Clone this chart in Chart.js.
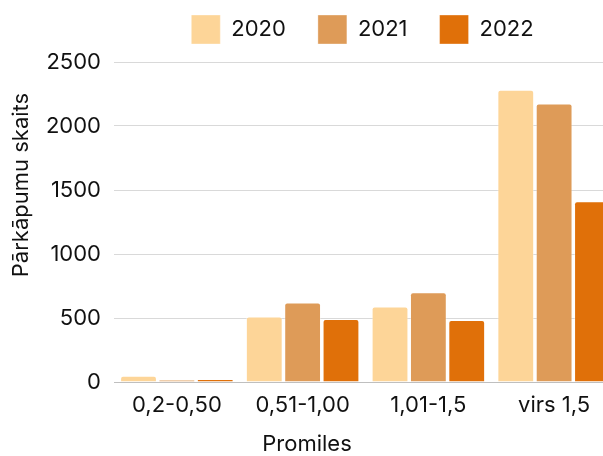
<!DOCTYPE html>
<html><head><meta charset="utf-8">
<script src="https://cdn.jsdelivr.net/npm/chart.js@4"></script>
<style>
html,body{margin:0;padding:0;background:#fff;}
#wrap{width:603px;height:456px;overflow:hidden;position:relative;}
canvas{display:block;}
</style></head>
<body>
<div id="wrap"><canvas id="c" width="725" height="456"></canvas></div>
<script>
const categories = ['0,2-0,50', '0,51-1,00', '1,01-1,5', 'virs 1,5'];
const seriesNames = ['2020', '2021', '2022'];
const values2020 = [48, 512, 589, 2284];
const values2021 = [20, 622, 701, 2175];
const values2022 = [24, 492, 484, 1412];
const yTicks = [0, 500, 1000, 1500, 2000, 2500];
const xTitle = 'Promiles';
const yTitle = 'Pārkāpumu skaits';
const colors = ['#FDD598', '#DE9B58', '#E07009'];
const FONT = "Inter, 'Open Sans', sans-serif";
const FS = 22;

const axisTitles = {
  id: 'axisTitles',
  afterLayout(chart) {
    const lg = chart.legend;
    if (lg) { lg.left += 54; lg.right += 54; lg.top -= 17; lg.bottom -= 17; }
  },
  afterDraw(chart) {
    const ctx = chart.ctx;
    ctx.save();
    ctx.fillStyle = '#111';
    ctx.font = FS + 'px ' + FONT;
    ctx.textAlign = 'center';
    ctx.textBaseline = 'middle';
    ctx.fillText(xTitle, 307, 444);
    ctx.translate(21, 185);
    ctx.rotate(-Math.PI / 2);
    ctx.fillText(yTitle, 0, 0);
    ctx.restore();
  }
};
const legendFit = {
  id: 'legendFit',
  beforeInit(chart) {
    const lg = chart.legend;
    if (!lg) return;
    const orig = lg.fit;
    lg.fit = function () { orig.call(this); this.height = 62; };
  }
};

new Chart(document.getElementById('c'), {
  type: 'bar',
  data: {
    labels: categories,
    datasets: [values2020, values2021, values2022].map((v, i) => ({
      label: seriesNames[i],
      data: v,
      backgroundColor: colors[i],
      borderColor: 'rgba(255,255,255,0.35)',
      borderWidth: 1,
      borderRadius: 3,
      borderSkipped: 'bottom',
      categoryPercentage: 0.915,
      barPercentage: 0.96
    }))
  },
  options: {
    responsive: false,
    animation: false,
    devicePixelRatio: 1,
    layout: { padding: { left: 0, right: 108, top: 0, bottom: 0 } },
    plugins: {
      legend: {
        position: 'top',
        labels: {
          boxWidth: 29, boxHeight: 29, padding: 32,
          color: '#111',
          font: { family: FONT, size: FS }
        }
      },
      tooltip: { enabled: false }
    },
    scales: {
      x: {
        grid: { display: false, drawTicks: false },
        border: { display: true, color: '#BFBFBF', width: 1 },
        ticks: { color: '#111', font: { family: FONT, size: FS }, padding: 10 },
        afterFit(s) { s.height = 74; }
      },
      y: {
        min: 0, max: 2500,
        afterBuildTicks(s) { s.ticks = yTicks.map(v => ({ value: v })); },
        grid: { color: '#D9D9D9', lineWidth: 1, drawTicks: false },
        border: { display: false },
        ticks: { color: '#111', font: { family: FONT, size: FS }, padding: 13,
                 callback: v => String(v) },
        afterFit(s) { s.width = 114; }
      }
    }
  },
  plugins: [legendFit, axisTitles]
});
</script>
</body></html>
